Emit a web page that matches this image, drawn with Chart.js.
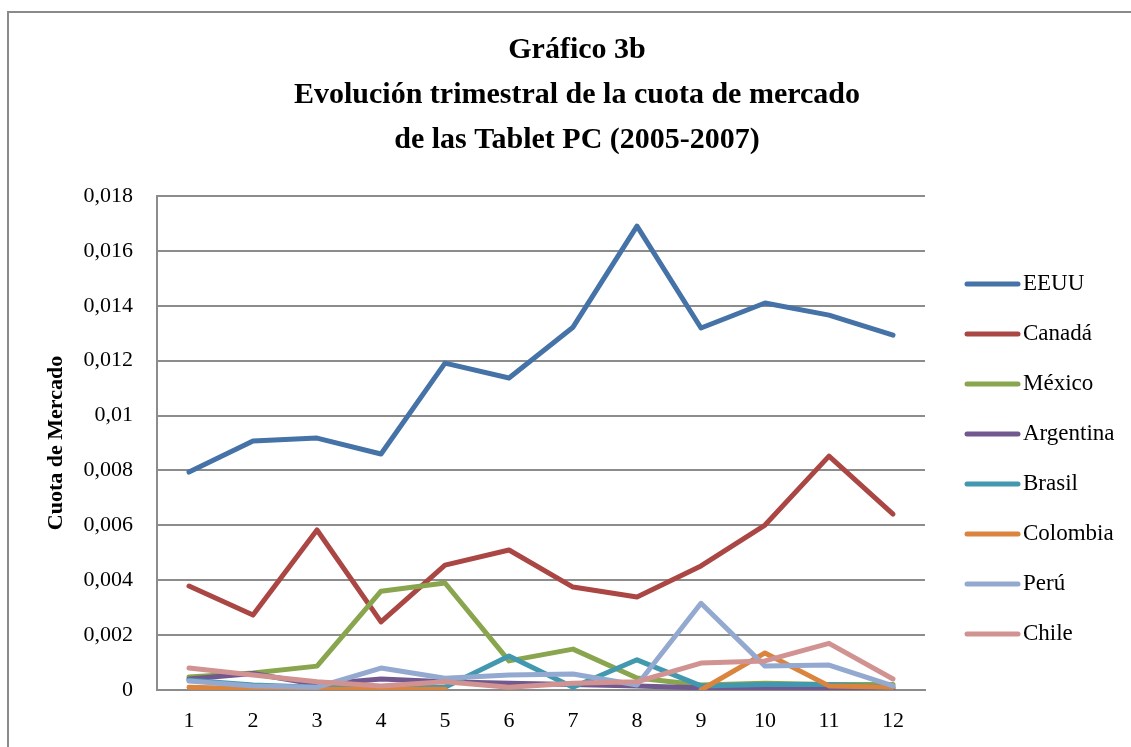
<!DOCTYPE html>
<html>
<head>
<meta charset="utf-8">
<script src="https://cdn.jsdelivr.net/npm/chart.js@4/dist/chart.umd.min.js"></script>
<style>
  body { margin: 0; background: #fff; }
  canvas { display: block; }
</style>
</head>
<body>
<canvas id="cuotaChart" width="1131" height="747"></canvas>
<script>
// Trimestres 1..12 (2005-2007)
const trimestres = ["1", "2", "3", "4", "5", "6", "7", "8", "9", "10", "11", "12"];
const yTickLabels = ["0", "0,002", "0,004", "0,006", "0,008", "0,01", "0,012", "0,014", "0,016", "0,018"];

// Cuota de mercado por país
const eeuu = [0.00794, 0.00907, 0.00918, 0.0086, 0.01191, 0.01137, 0.01322, 0.0169, 0.01319, 0.0141, 0.01366, 0.01293];
const canada = [0.00379, 0.00273, 0.00583, 0.00248, 0.00455, 0.0051, 0.00375, 0.00339, 0.00452, 0.00601, 0.00852, 0.00641];
const mexico = [0.00047, 0.00062, 0.00087, 0.0036, 0.0039, 0.00106, 0.00149, 0.00044, 0.00018, 0.00025, 0.0002, 0.0002];
const argentina = [0.0004, 0.0006, 0.0002, 0.0004, 0.0003, 0.00025, 0.0002, 0.00015, 0.00008, 0.0001, 0.00005, 0.00005];
const brasil = [0.00036, 0.00018, 0.0001, 0.0001, 0.0001, 0.00124, 0.0001, 0.0011, 0.00015, 0.0002, 0.0002, 0.0001];
const colombia = [0.0001, 0.00005, 0.00003, 0.00003, 0.00003, null, null, null, 0.0, 0.00135, 0.00015, 0.0001];
const peru = [0.00033, 0.00015, 0.0001, 0.0008, 0.00043, 0.00055, 0.00058, 0.00018, 0.00316, 0.00087, 0.00091, 0.00015];
const chile = [0.0008, 0.00055, 0.0003, 0.00015, 0.0003, 0.0001, 0.00025, 0.0003, 0.00098, 0.00106, 0.0017, 0.0004];

const paises = ["EEUU", "Canadá", "México", "Argentina", "Brasil", "Colombia", "Perú", "Chile"];
const series = [eeuu, canada, mexico, argentina, brasil, colombia, peru, chile];
const colores = ["#4572A7", "#AA4643", "#89A54E", "#71588F", "#4198AF", "#DB843D", "#93A9CF", "#D19392"];

const SERIF = "'Liberation Serif', 'Times New Roman', serif";
const GRID = "#8c8c8c";

// Marco del gráfico + leyenda a la derecha
const frameAndLegend = {
  id: "frameAndLegend",
  beforeDraw(chart) {
    const ctx = chart.ctx;
    ctx.save();
    ctx.fillStyle = "#fff";
    ctx.fillRect(0, 0, chart.width, chart.height);
    ctx.strokeStyle = "#8a8a8a";
    ctx.lineWidth = 2;
    ctx.beginPath();
    ctx.moveTo(8, chart.height + 5);
    ctx.lineTo(8, 12);
    ctx.lineTo(chart.width + 5, 12);
    ctx.stroke();
    ctx.restore();
  },
  afterDraw(chart) {
    const ctx = chart.ctx;
    const x0 = chart.chartArea.right + 40;
    ctx.save();
    ctx.font = "23px " + SERIF;
    ctx.textBaseline = "middle";
    ctx.lineCap = "round";
    ctx.lineWidth = 5;
    chart.data.datasets.forEach((ds, i) => {
      const y = 284 + i * 50;
      ctx.strokeStyle = ds.borderColor;
      ctx.beginPath();
      ctx.moveTo(x0 + 2, y);
      ctx.lineTo(x0 + 53, y);
      ctx.stroke();
      ctx.fillStyle = "#000";
      ctx.fillText(ds.label, x0 + 58, y);
    });
    ctx.restore();
  },
};

const ctx = document.getElementById("cuotaChart").getContext("2d");
new Chart(ctx, {
  type: "line",
  data: {
    labels: trimestres,
    datasets: paises.map((p, i) => ({
      label: p,
      data: series[i],
      borderColor: colores[i],
      backgroundColor: colores[i],
      borderWidth: 5,
      borderCapStyle: "round",
      borderJoinStyle: "round",
      pointRadius: 0,
      tension: 0,
      spanGaps: false,
      order: paises.length - i,
    })),
  },
  options: {
    responsive: false,
    animation: false,
    layout: { padding: { left: 23, right: 0, top: 0, bottom: 0 } },
    plugins: {
      legend: { display: false },
      tooltip: { enabled: false },
      title: {
        display: true,
        text: ["Gráfico 3b", "Evolución trimestral de la cuota de mercado", "de las Tablet PC (2005-2007)"],
        color: "#000",
        font: { family: SERIF, size: 30, weight: "bold", lineHeight: "45px" },
        padding: { top: 27.5, bottom: 33.5 },
      },
    },
    scales: {
      x: {
        offset: true,
        grid: { display: false },
        border: { display: true, color: GRID, width: 2 },
        ticks: { color: "#000", padding: 10, font: { family: SERIF, size: 22 } },
        afterFit: (s) => { s.height = 57; },
      },
      y: {
        min: 0,
        max: 0.018,
        ticks: {
          stepSize: 0.002,
          color: "#000",
          padding: 24,
          font: { family: SERIF, size: 22 },
          callback: (v, i) => yTickLabels[i],
        },
        grid: { color: GRID, lineWidth: 2, drawTicks: false },
        border: { display: true, color: GRID, width: 2 },
        title: {
          display: true,
          text: "Cuota de Mercado",
          color: "#000",
          font: { family: SERIF, size: 22, weight: "bold" },
          padding: { top: 20 },
        },
        afterFit: (s) => { s.width = 134; },
      },
      pad: {
        type: "linear",
        position: "right",
        display: true,
        grid: { display: false },
        border: { display: false },
        ticks: { display: false },
        afterFit: (s) => { s.width = 206; },
      },
    },
  },
  plugins: [frameAndLegend],
});
</script>
</body>
</html>
